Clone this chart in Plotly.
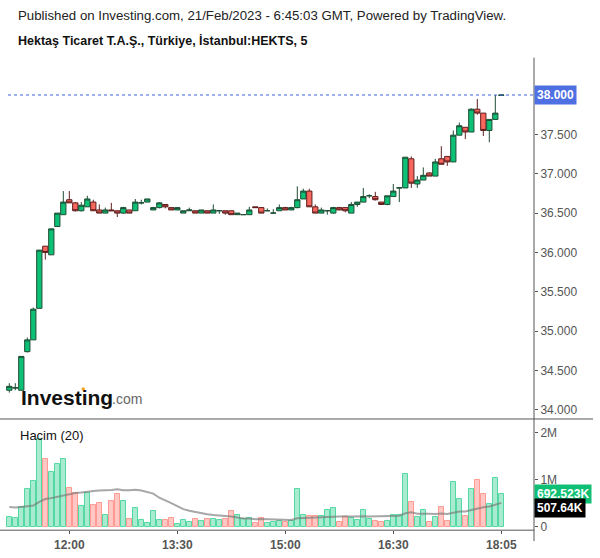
import plotly.graph_objects as go
import pandas as pd

# ---------------- data ----------------
opens = [34.25, 34.28, 34.25, 34.74, 34.89, 35.29, 36.08, 35.97, 36.33, 36.48,
         36.67, 36.63, 36.53, 36.58, 36.64, 36.54, 36.50, 36.54, 36.53, 36.50,
         36.54, 36.53, 36.63, 36.64, 36.54, 36.57, 36.61, 36.57, 36.54, 36.50,
         36.53, 36.53, 36.50, 36.53, 36.50, 36.53, 36.53, 36.53, 36.48, 36.48,
         36.48, 36.58, 36.57, 36.53, 36.50, 36.53, 36.57, 36.54, 36.57, 36.68,
         36.78, 36.58, 36.50, 36.53, 36.50, 36.57, 36.57, 36.50, 36.61, 36.64,
         36.72, 36.71, 36.64, 36.61, 36.71, 36.82, 36.82, 37.19, 36.87, 36.92,
         37.01, 36.97, 37.19, 37.22, 37.15, 37.49, 37.59, 37.53, 37.82, 37.77,
         37.55, 37.69, 37.995]
highs = [34.34, 34.34, 34.68, 34.92, 35.30, 36.03, 36.08, 36.30, 36.50, 36.78,
         36.78, 36.64, 36.64, 36.72, 36.67, 36.61, 36.57, 36.63, 36.53, 36.58,
         36.54, 36.68, 36.67, 36.68, 36.58, 36.64, 36.61, 36.57, 36.57, 36.53,
         36.57, 36.53, 36.54, 36.53, 36.61, 36.53, 36.53, 36.53, 36.50, 36.48,
         36.58, 36.58, 36.57, 36.56, 36.55, 36.61, 36.58, 36.58, 36.84, 36.81,
         36.81, 36.61, 36.57, 36.53, 36.58, 36.58, 36.57, 36.64, 36.64, 36.82,
         36.74, 36.77, 36.64, 36.72, 36.87, 36.82, 37.21, 37.22, 36.97, 37.08,
         37.02, 37.19, 37.35, 37.22, 37.55, 37.65, 37.59, 37.83, 37.95, 37.77,
         37.69, 38.00, 38.00]
lows = [34.22, 34.25, 34.25, 34.73, 34.89, 35.29, 35.91, 35.97, 36.33, 36.48,
        36.63, 36.52, 36.52, 36.58, 36.53, 36.50, 36.50, 36.53, 36.45, 36.49,
        36.50, 36.53, 36.61, 36.64, 36.54, 36.56, 36.56, 36.54, 36.54, 36.50,
        36.53, 36.50, 36.50, 36.50, 36.50, 36.49, 36.48, 36.48, 36.48, 36.48,
        36.48, 36.57, 36.50, 36.53, 36.50, 36.53, 36.54, 36.54, 36.56, 36.68,
        36.58, 36.50, 36.50, 36.48, 36.49, 36.54, 36.51, 36.50, 36.58, 36.64,
        36.69, 36.66, 36.61, 36.60, 36.71, 36.64, 36.82, 36.82, 36.82, 36.92,
        36.97, 36.97, 37.12, 37.10, 37.15, 37.49, 37.44, 37.53, 37.75, 37.48,
        37.40, 37.69, 37.995]
closes = [34.30, 34.281, 34.68, 34.89, 35.28, 36.03, 36.00, 36.30, 36.50, 36.64,
          36.63, 36.53, 36.60, 36.68, 36.53, 36.50, 36.54, 36.53, 36.50, 36.57,
          36.50, 36.64, 36.631, 36.68, 36.57, 36.63, 36.58, 36.54, 36.57, 36.53,
          36.54, 36.50, 36.54, 36.50, 36.54, 36.531, 36.50, 36.48, 36.50, 36.481,
          36.54, 36.57, 36.50, 36.531, 36.501, 36.57, 36.54, 36.57, 36.67, 36.78,
          36.58, 36.50, 36.54, 36.531, 36.57, 36.54, 36.53, 36.61, 36.64, 36.71,
          36.721, 36.67, 36.61, 36.72, 36.78, 36.821, 37.21, 36.88, 36.92, 36.98,
          36.97, 37.15, 37.12, 37.15, 37.49, 37.61, 37.53, 37.82, 37.77, 37.55,
          37.69, 37.77, 38.00]
volumes_m = [0.21, 0.18, 0.43, 0.81, 0.97, 1.87, 1.45, 1.16, 1.33, 1.45,
             0.83, 0.73, 0.45, 0.71, 0.47, 0.50, 0.26, 0.54, 0.69, 0.54,
             0.16, 0.40, 0.14, 0.09, 0.33, 0.14, 0.14, 0.18, 0.06, 0.14,
             0.10, 0.16, 0.12, 0.16, 0.16, 0.14, 0.16, 0.33, 0.24, 0.16,
             0.18, 0.08, 0.18, 0.08, 0.10, 0.12, 0.10, 0.12, 0.80, 0.25,
             0.23, 0.23, 0.23, 0.35, 0.40, 0.10, 0.20, 0.18, 0.14, 0.35,
             0.16, 0.12, 0.10, 0.12, 0.26, 0.26, 1.12, 0.52, 0.20, 0.35,
             0.10, 0.20, 0.43, 0.12, 0.95, 0.60, 0.23, 0.80, 0.99, 0.69,
             0.49, 1.03, 0.692523]
# 20-bar volume average for the first bars (its window starts before the visible range)
vol_ma_head_m = [0.42, 0.41, 0.42, 0.43, 0.45, 0.53, 0.59, 0.61, 0.64, 0.66,
                 0.70, 0.72, 0.73, 0.75, 0.76, 0.77, 0.77, 0.785, 0.80]
time_tick_idx = [10, 28, 46, 64, 82]
time_tick_text = ["12:00", "13:30", "15:00", "16:30", "18:05"]
price_ticks = [34.0, 34.5, 35.0, 35.5, 36.0, 36.5, 37.0, 37.5]
vol_ticks_m = [0, 1, 2]
vol_tick_text = ["0", "1M", "2M"]
last_price = 38.0
last_price_text = "38.000"
last_vol_text = "692.523K"
ma_text = "507.64K"

# ---------------- derived ----------------
W, H = 600, 558
n = len(opens)
x = list(range(n))
ma = pd.Series(volumes_m).rolling(20).mean().tolist()
ma[:len(vol_ma_head_m)] = vol_ma_head_m
up = [c >= o for o, c in zip(opens, closes)]
bar_fill = ["rgba(40,205,140,0.40)" if u else "rgba(255,110,100,0.38)" for u in up]
bar_line = ["#55d9a3" if u else "#ff9a92" for u in up]

def px_x(p):
    return p / W

def px_y(p):
    return 1 - p / H

AXIS_X = 534
PRICE_TOP, PRICE_BOT = 58, 422
VOL_BOT = 534
FONT = "Liberation Sans, Arial, sans-serif"

fig = go.Figure()
fig.add_trace(go.Candlestick(
    x=x, open=opens, high=highs, low=lows, close=closes,
    increasing=dict(fillcolor="#0cc175", line=dict(color="#1f4d35", width=1)),
    decreasing=dict(fillcolor="#f8675d", line=dict(color="#5e1e1e", width=1)),
    whiskerwidth=0, xaxis="x", yaxis="y", hoverinfo="skip", showlegend=False))
fig.add_trace(go.Bar(
    x=x, y=volumes_m, width=0.86,
    marker=dict(color=bar_fill, line=dict(color=bar_line, width=1)),
    xaxis="x", yaxis="y2", hoverinfo="skip", showlegend=False))
fig.add_trace(go.Scatter(
    x=x, y=ma, mode="lines",
    line=dict(color="rgba(120,120,120,0.65)", width=2),
    xaxis="x", yaxis="y2", hoverinfo="skip", showlegend=False))

x_lo = -9.3 / 6
x_hi = x_lo + AXIS_X / 6

fig.update_layout(
    width=W, height=H, margin=dict(l=0, r=0, t=0, b=0),
    paper_bgcolor="white", plot_bgcolor="white",
    showlegend=False, boxgap=0.12, boxgroupgap=0.0, bargap=0,
    font=dict(family=FONT, size=12, color="#555"),
    xaxis=dict(domain=[0, AXIS_X / W], range=[x_lo, x_hi], anchor="y2",
               tickvals=time_tick_idx, ticktext=time_tick_text,
               tickfont=dict(family=FONT, size=12, color="#555", weight="bold"),
               ticks="outside", ticklen=3, tickcolor="#555",
               showgrid=False, zeroline=False, showline=False,
               rangeslider=dict(visible=False)),
    yaxis=dict(domain=[px_y(PRICE_BOT), px_y(PRICE_TOP)],
               range=[38 - (PRICE_BOT - 95.7) / 79.3, 38 + (95.7 - PRICE_TOP) / 79.3],
               side="right", anchor="x", tickvals=price_ticks, tickformat=".3f",
               ticks="outside", ticklen=3, tickcolor="#555",
               tickfont=dict(family=FONT, size=12, color="#555"),
               showgrid=False, zeroline=False, showline=False),
    yaxis2=dict(domain=[px_y(VOL_BOT), px_y(PRICE_BOT)],
                range=[-(VOL_BOT - 530.5) / 47.2, (530.5 - PRICE_BOT) / 47.2],
                side="right", anchor="x", tickvals=vol_ticks_m, ticktext=vol_tick_text,
                ticks="outside", ticklen=3, tickcolor="#555",
                tickfont=dict(family=FONT, size=12, color="#555"),
                showgrid=False, zeroline=False, showline=False),
)

line_col = "#555"
shapes = [
    dict(type="line", xref="paper", yref="paper", x0=0, x1=px_x(593),
         y0=px_y(PRICE_BOT), y1=px_y(PRICE_BOT), line=dict(color=line_col, width=1)),
    dict(type="line", xref="paper", yref="paper", x0=0, x1=px_x(AXIS_X),
         y0=px_y(VOL_BOT), y1=px_y(VOL_BOT), line=dict(color=line_col, width=1)),
    dict(type="line", xref="paper", yref="paper", x0=px_x(AXIS_X), x1=px_x(AXIS_X),
         y0=px_y(545), y1=px_y(PRICE_TOP), line=dict(color=line_col, width=1)),
    dict(type="line", xref="paper", yref="y", x0=px_x(8), x1=px_x(AXIS_X),
         y0=last_price, y1=last_price, line=dict(color="#3f62da", width=1, dash="dot")),
    dict(type="circle", xref="paper", yref="paper", x0=px_x(81.5), x1=px_x(85),
         y0=px_y(393.5), y1=px_y(390), fillcolor="#f6a21e", line=dict(width=0)),
]
fig.update_layout(shapes=shapes)

ann = [
    dict(x=px_x(16), y=px_y(16), text="Published on Investing.com, 21/Feb/2023 - 6:45:03 GMT, Powered by TradingView.",
         font=dict(family=FONT, size=13.25, color="#222")),
    dict(x=px_x(16), y=px_y(41), text="<b>Hektaş Ticaret T.A.Ş., Türkiye, İstanbul:HEKTS, 5</b>",
         font=dict(family=FONT, size=12.5, color="#111")),
    dict(x=px_x(18), y=px_y(439), text="Hacim (20)",
         font=dict(family=FONT, size=13, color="#111")),
    dict(x=px_x(19), y=px_y(400), text="<b>Investing</b>",
         font=dict(family=FONT, size=21, color="#111")),
    dict(x=px_x(110), y=px_y(402), text=".com",
         font=dict(family=FONT, size=14, color="#666")),
]
for a in ann:
    a.update(xref="paper", yref="paper", xanchor="left", yanchor="middle", showarrow=False)

ann += [
    dict(x=px_x(AXIS_X), y=last_price, xref="paper", yref="y", xanchor="left", yanchor="middle",
         text="<b>" + last_price_text + "</b>", showarrow=False, bgcolor="#4e70e2", borderpad=2,
         font=dict(family=FONT, size=12, color="white")),
    dict(x=px_x(AXIS_X), y=volumes_m[-1], xref="paper", yref="y2", xanchor="left", yanchor="middle",
         text="<b>" + last_vol_text + "</b>", showarrow=False, bgcolor="#0fc074", borderpad=2,
         font=dict(family=FONT, size=12, color="white")),
    dict(x=px_x(AXIS_X), y=px_y(512), xref="paper", yref="paper", xanchor="left", yanchor="middle",
         text="<b>" + ma_text + "</b>", showarrow=False, bgcolor="#000", borderpad=2,
         font=dict(family=FONT, size=12, color="white")),
]
fig.update_layout(annotations=ann)

fig.write_html("out.html")
